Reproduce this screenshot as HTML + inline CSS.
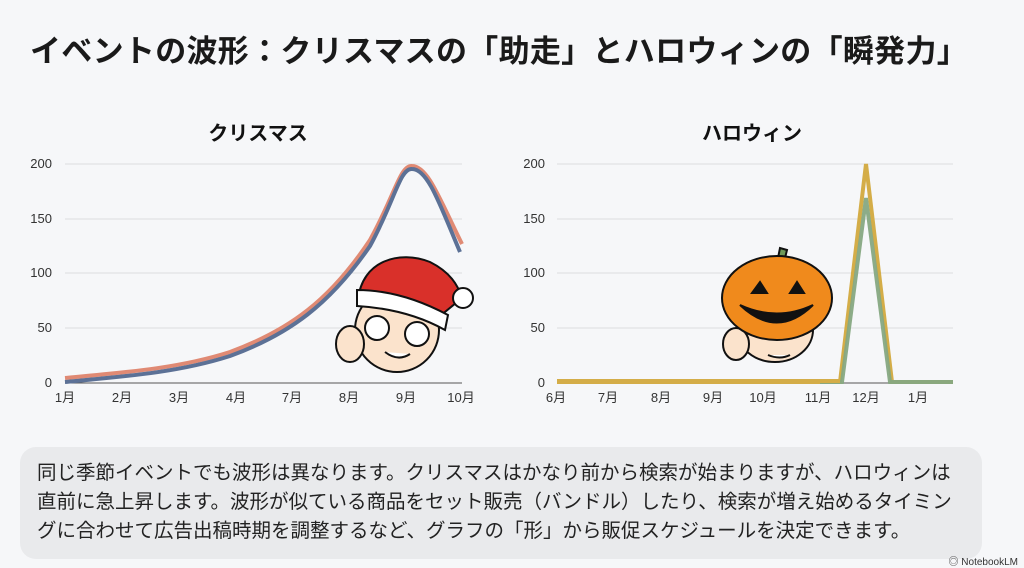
<!DOCTYPE html>
<html><head><meta charset="utf-8"><style>
body{margin:0;width:1024px;height:568px;background:#f6f7f9;overflow:hidden;font-family:"Liberation Sans","Noto Sans CJK JP",sans-serif;position:relative}
.t{position:absolute;left:30px;top:26px;font-size:31px;font-weight:bold;color:#1a1a1a;letter-spacing:0.3px}
.box{position:absolute;left:20px;top:447px;width:962px;height:112px;background:#e9eaec;border-radius:16px}
.box p{margin:0;position:absolute;left:17px;top:12px;white-space:nowrap;font-size:19.5px;line-height:29px;color:#222}
.nb{position:absolute;right:6px;bottom:0px;font-size:10px;color:#333}
</style></head><body>
<div class="t">イベントの波形：クリスマスの「助走」とハロウィンの「瞬発力」</div>
<svg width="1024" height="568" style="position:absolute;left:0;top:0" font-family="Liberation Sans, Noto Sans CJK JP, sans-serif">
<g font-size="20" font-weight="bold" fill="#111" text-anchor="middle">
<text x="258" y="140">クリスマス</text><text x="752" y="140">ハロウィン</text></g>
<g stroke="#dcdde0" stroke-width="1">
<line x1="65" x2="462" y1="164" y2="164"/><line x1="65" x2="462" y1="219" y2="219"/><line x1="65" x2="462" y1="273" y2="273"/><line x1="65" x2="462" y1="328" y2="328"/>
<line x1="557" x2="953" y1="164" y2="164"/><line x1="557" x2="953" y1="219" y2="219"/><line x1="557" x2="953" y1="273" y2="273"/><line x1="557" x2="953" y1="328" y2="328"/>
</g>
<line x1="65" x2="462" y1="383" y2="383" stroke="#555"/><line x1="557" x2="953" y1="383" y2="383" stroke="#555"/>
<g font-size="13" fill="#333" text-anchor="end">
<text x="52" y="168">200</text><text x="52" y="223">150</text><text x="52" y="277">100</text><text x="52" y="332">50</text><text x="52" y="387">0</text>
<text x="545" y="168">200</text><text x="545" y="223">150</text><text x="545" y="277">100</text><text x="545" y="332">50</text><text x="545" y="387">0</text>
</g>
<g font-size="13" fill="#333" text-anchor="middle">
<text x="65" y="402">1月</text><text x="122" y="402">2月</text><text x="179" y="402">3月</text><text x="236" y="402">4月</text><text x="292" y="402">7月</text><text x="349" y="402">8月</text><text x="406" y="402">9月</text><text x="461" y="402">10月</text>
<text x="556" y="402">6月</text><text x="608" y="402">7月</text><text x="661" y="402">8月</text><text x="713" y="402">9月</text><text x="763" y="402">10月</text><text x="818" y="402">11月</text><text x="866" y="402">12月</text><text x="918" y="402">1月</text>
</g>
<path d="M65,378 C130,372 180,368 230,352 C290,330 330,300 370,240 C395,195 400,165 412,166 C428,166 440,200 462,244" fill="none" stroke="#e08a74" stroke-width="4"/>
<path d="M65,382 C130,376 180,372 230,356 C290,334 330,304 370,246 C395,200 400,168 412,169 C428,169 440,205 460,252" fill="none" stroke="#5c7196" stroke-width="4"/>
<polyline points="557,382 840,382 866,164 892,382 953,382" fill="none" stroke="#d4ad48" stroke-width="4"/>
<polyline points="820,382 842,382 866,198 890,382 953,382" fill="none" stroke="#86a882" stroke-width="4" opacity="0.95"/>
<polyline points="557,381 840,381" fill="none" stroke="#d4ad48" stroke-width="4"/>
<g stroke="#111" stroke-width="2">
<ellipse cx="397" cy="330" rx="42" ry="42" fill="#fbe3cc"/>
<ellipse cx="350" cy="344" rx="14" ry="18" fill="#fbe3cc"/>
<path d="M358,300 C362,260 400,250 430,262 C450,272 458,285 462,298 L440,316 L358,300Z" fill="#d9302a"/>
<path d="M357,290 C390,290 420,300 448,315 L445,330 C420,316 390,308 357,306Z" fill="#fff"/>
<circle cx="463" cy="298" r="10" fill="#fff"/>
<circle cx="377" cy="328" r="12" fill="#fff"/><circle cx="417" cy="334" r="12" fill="#fff"/>
<path d="M385,352 Q398,362 410,354" fill="#fff"/>
</g>
<g stroke="#111" stroke-width="2">
<ellipse cx="775" cy="330" rx="38" ry="32" fill="#fbe3cc"/>
<ellipse cx="736" cy="344" rx="13" ry="16" fill="#fbe3cc"/>
<path d="M776,268 L780,248 L787,250 L782,270Z" fill="#6f9a5a"/>
<ellipse cx="777" cy="298" rx="55" ry="42" fill="#f08a1c"/>
<path d="M752,293 L760,282 L767,293Z M790,293 L797,282 L804,293Z" fill="#111"/>
<path d="M740,305 Q777,340 813,305 Q777,322 740,305Z" fill="#111"/>
<path d="M768,355 Q780,360 790,355" fill="#fff"/>
</g>
</svg>
<div class="box"><p>同じ季節イベントでも波形は異なります。クリスマスはかなり前から検索が始まりますが、ハロウィンは<br>直前に急上昇します。波形が似ている商品をセット販売（バンドル）したり、検索が増え始めるタイミン<br>グに合わせて広告出稿時期を調整するなど、グラフの「形」から販促スケジュールを決定できます。</p></div>
<div class="nb">◎ NotebookLM</div>
</body></html>
